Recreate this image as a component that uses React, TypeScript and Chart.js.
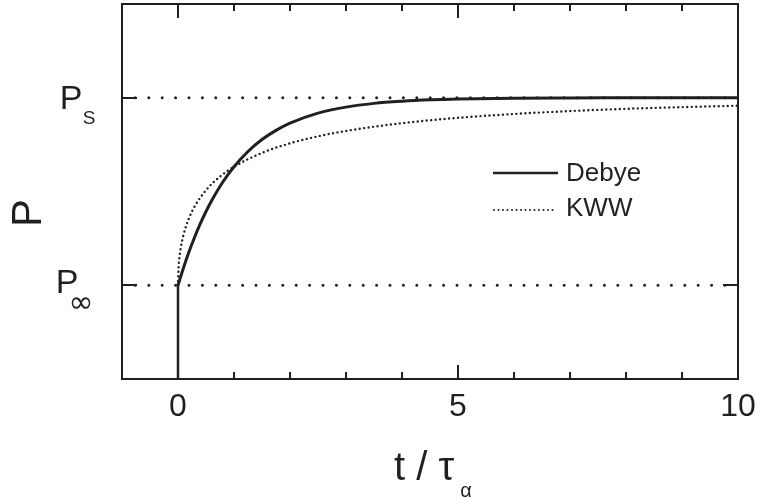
import React, { useEffect, useRef } from "react";
import { Chart, registerables } from "chart.js";

Chart.register(...registerables);

// ---- data ----
const X_MIN = -1;
const X_MAX = 10;
const Y_MIN = 0;
const Y_MAX = 4;
const P_INF = 1;
const P_S = 3;
const xTickLabels = [0, 5, 10];
const xMinorTicks = [1, 2, 3, 4, 6, 7, 8, 9];

// vertical rise at t = 0 (step of the polarization)
const riseT = [0, 0];
const riseP = [0, 1];

// Debye relaxation (solid)
const debyeT = [0, 0.1, 0.2, 0.3, 0.4, 0.5, 0.6, 0.8, 1.0, 1.25, 1.5, 1.75, 2.0, 2.5, 3.0, 3.5, 4.0, 4.5, 5, 6, 7, 8, 10];
const debyeP = [1.0, 1.19, 1.363, 1.518, 1.659, 1.787, 1.902, 2.101, 2.264, 2.427, 2.554, 2.652, 2.729, 2.836, 2.9, 2.94, 2.963, 2.978, 2.987, 2.995, 2.998, 2.999, 3.0];

// KWW stretched relaxation (dotted)
const kwwT = [0, 0.01, 0.03, 0.05, 0.1, 0.2, 0.3, 0.5, 0.75, 1, 1.5, 2, 2.5, 3, 4, 5, 6, 7, 8, 9, 10];
const kwwP = [1.0, 1.19, 1.318, 1.401, 1.542, 1.721, 1.843, 2.014, 2.159, 2.264, 2.412, 2.514, 2.589, 2.646, 2.729, 2.786, 2.827, 2.858, 2.882, 2.9, 2.915];

// reference levels
const levelT = [X_MIN, X_MAX];

const INK = "#231f20";
const FONT = "'Liberation Sans', Arial, sans-serif";

const zip = (xs: number[], ys: number[]) => xs.map((x, i) => ({ x, y: ys[i] }));

const decorPlugin = {
  id: "decor",
  afterDraw(chart: any) {
    const { ctx, chartArea: a, scales } = chart;
    const xs = scales.x;
    const ys = scales.y;
    ctx.save();
    ctx.strokeStyle = INK;
    ctx.fillStyle = INK;
    ctx.lineWidth = 2;
    ctx.setLineDash([]);
    // frame
    ctx.strokeRect(a.left, a.top, a.right - a.left, a.bottom - a.top);
    // x ticks (inside, bottom & top)
    const drawX = (v: number, len: number) => {
      const px = Math.round(xs.getPixelForValue(v));
      ctx.beginPath();
      ctx.moveTo(px, a.bottom);
      ctx.lineTo(px, a.bottom - len);
      ctx.moveTo(px, a.top);
      ctx.lineTo(px, a.top + len);
      ctx.stroke();
    };
    xTickLabels.forEach((v) => drawX(v, 14));
    xMinorTicks.forEach((v) => drawX(v, 7));
    // y ticks (inside, left & right)
    [P_INF, P_S].forEach((v) => {
      const py = Math.round(ys.getPixelForValue(v));
      ctx.beginPath();
      ctx.moveTo(a.left, py);
      ctx.lineTo(a.left + 15, py);
      ctx.moveTo(a.right, py);
      ctx.lineTo(a.right - 15, py);
      ctx.stroke();
    });

    // y tick labels with subscripts
    ctx.textAlign = "center";
    ctx.textBaseline = "middle";
    const pS = ys.getPixelForValue(P_S);
    const pI = ys.getPixelForValue(P_INF);
    ctx.font = `34px ${FONT}`;
    ctx.fillText("P", 71, pS + 2);
    ctx.font = `19px ${FONT}`;
    ctx.fillText("S", 89, pS + 21);
    ctx.font = `34px ${FONT}`;
    ctx.fillText("P", 67, pI - 2);
    ctx.font = `30px 'DejaVu Sans', sans-serif`;
    ctx.fillText("\u221E", 81, pI + 19);

    // y axis title
    ctx.save();
    ctx.translate(27, 213);
    ctx.rotate(-Math.PI / 2);
    ctx.font = `42px ${FONT}`;
    ctx.fillText("P", 0, 2);
    ctx.restore();

    // x axis title
    ctx.textAlign = "left";
    ctx.textBaseline = "alphabetic";
    ctx.font = `40px ${FONT}`;
    ctx.fillText("t / \u03C4", 394, 480);
    ctx.textAlign = "center";
    ctx.font = `20px ${FONT}`;
    ctx.fillText("\u03B1", 466, 497);

    // legend
    ctx.lineWidth = 2.5;
    ctx.beginPath();
    ctx.moveTo(493, 173);
    ctx.lineTo(558, 173);
    ctx.stroke();
    ctx.lineWidth = 2;
    ctx.lineCap = "round";
    ctx.setLineDash([0, 4.5]);
    ctx.beginPath();
    ctx.moveTo(494, 210);
    ctx.lineTo(553, 210);
    ctx.stroke();
    ctx.setLineDash([]);
    ctx.textAlign = "left";
    ctx.textBaseline = "middle";
    ctx.font = `26px ${FONT}`;
    ctx.fillText("Debye", 566, 174);
    ctx.fillText("KWW", 566, 209);
    ctx.restore();
  },
};

export default function App() {
  const ref = useRef<HTMLCanvasElement | null>(null);
  useEffect(() => {
    if (!ref.current) return;
    const chart = new Chart(ref.current, {
      type: "line",
      data: {
        datasets: [
          {
            label: "P_S level",
            data: zip(levelT, [P_S, P_S]),
            borderColor: INK,
            borderWidth: 3,
            borderDash: [0, 13.4],
            borderCapStyle: "round",
            pointRadius: 0,
            fill: false,
          },
          {
            label: "P_inf level",
            data: zip(levelT, [P_INF, P_INF]),
            borderColor: INK,
            borderWidth: 3,
            borderDash: [0, 13.4],
            borderCapStyle: "round",
            pointRadius: 0,
            fill: false,
          },
          {
            label: "KWW",
            data: zip(kwwT, kwwP),
            borderColor: INK,
            borderWidth: 2.4,
            borderDash: [0, 4.5],
            borderCapStyle: "round",
            cubicInterpolationMode: "monotone",
            pointRadius: 0,
            fill: false,
          },
          {
            label: "rise",
            data: zip(riseT, riseP),
            borderColor: INK,
            borderWidth: 2.5,
            pointRadius: 0,
            fill: false,
          },
          {
            label: "Debye",
            data: zip(debyeT, debyeP),
            borderColor: INK,
            borderWidth: 3,
            cubicInterpolationMode: "monotone",
            pointRadius: 0,
            fill: false,
          },
        ],
      },
      options: {
        animation: false,
        responsive: false,
        parsing: true,
        layout: { padding: { left: 122, right: 20, top: 4, bottom: 0 } },
        plugins: { legend: { display: false }, tooltip: { enabled: false } },
        scales: {
          x: {
            type: "linear",
            min: X_MIN,
            max: X_MAX,
            grid: { display: false, drawTicks: false },
            border: { display: false },
            ticks: {
              stepSize: 1,
              autoSkip: false,
              maxRotation: 0,
              padding: 9,
              color: INK,
              font: { family: FONT, size: 32 },
              callback: (v: any) => (xTickLabels.includes(Number(v)) ? String(v) : ""),
            },
            afterFit: (s: any) => {
              s.height = 120;
              s.paddingLeft = 0;
              s.paddingRight = 0;
            },
          },
          y: {
            type: "linear",
            min: Y_MIN,
            max: Y_MAX,
            display: false,
          },
        },
      },
      plugins: [decorPlugin],
    } as any);
    return () => chart.destroy();
  }, []);
  return (
    <div style={{ position: "fixed", left: 0, top: 0, width: 758, height: 499, background: "#fff" }}>
      <canvas ref={ref} width={758} height={499} style={{ display: "block" }} />
    </div>
  );
}
